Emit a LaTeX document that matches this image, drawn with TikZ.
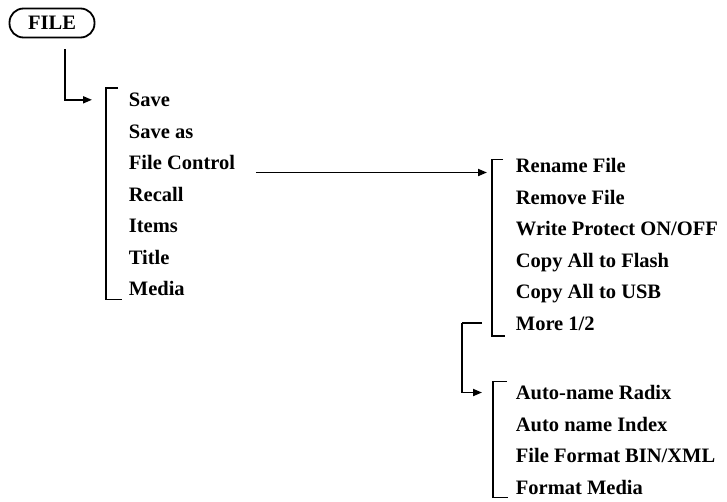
\documentclass[tikz,border=0pt]{standalone}
\usepackage{fontspec}
\setmainfont{Liberation Serif}
\usepackage{tikz}
\usetikzlibrary{arrows.meta,calc}
\newcommand\menufont{\fontsize{20.5}{24}\selectfont\bfseries}

\begin{document}
\begin{tikzpicture}[
  x=1pt, y=-1pt,
  item/.style={anchor=base west, inner sep=0pt, font=\menufont},
  key/.style={draw, rounded corners=14pt, minimum width=85pt, minimum height=29pt, inner sep=0pt, font=\menufont},
  line width=1.8pt,
  >={Triangle[length=9pt,width=7pt]}
]
\useasboundingbox (0,0) rectangle (727,501);

\node[key] (file) at (52,23) {FILE};

% first level menu
\foreach \t [count=\i] in {Save,Save as,File Control,Recall,Items,Title,Media}
  \node[item] (s\i) at (128,{106.5+31.5*(\i-1)}) {\t};

% File Control submenu, page 1
\foreach \t [count=\i] in {Rename File,Remove File,Write Protect ON/OFF,Copy All to Flash,Copy All to USB,More 1/2}
  \node[item] (r\i) at (515,{172.5+31.5*(\i-1)}) {\t};

% File Control submenu, page 2
\foreach \t [count=\i] in {Auto-name Radix,Auto name Index,File Format BIN/XML,Format Media}
  \node[item] (m\i) at (515,{399.5+31.5*(\i-1)}) {\t};

% brackets round each menu
\draw ($(s1.west)+(-10,-12)$) -- ++(-12,0) |- ($(s7.west)+(-6,11)$);
\draw ($(r1.west)+(-12,-6)$) -- ++(-11,0) |- ($(r6.west)+(-10,13)$);
\draw ($(m1.west)+(-8,-11)$) -- ++(-14,0) |- ($(m4.west)+(-7,10.5)$);

% FILE key opens the first menu
\draw[->] ([xshift=13pt,yshift=-11pt]file.south) |- ([xshift=-36pt]s1.west);

% File Control opens its submenu
\draw[->] ([xshift=20pt]s3.base east |- r1.base) -- ([xshift=-28pt]r1.base west);

% More 1/2 turns to page 2
\draw ([xshift=-33pt]r6.west) -- ++(-20,0) coordinate (moreFb);
\draw[->] (moreFb) |- ([xshift=-33pt]m1.west);
\end{tikzpicture}
\end{document}
